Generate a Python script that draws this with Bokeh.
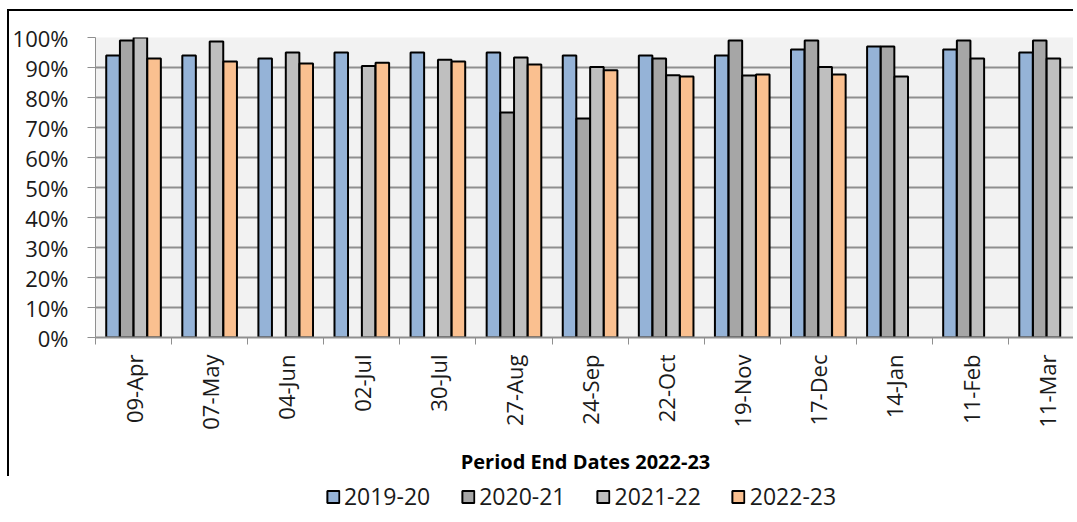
import math
import numpy as np
from bokeh.plotting import figure
from bokeh.layouts import column
from bokeh.models import (ColumnDataSource, Range1d, FixedTicker, LinearAxis,
                          CustomJSTickFormatter, PrintfTickFormatter, Legend, LegendItem)
from bokeh.transform import dodge
from bokeh.embed import file_html
from bokeh.resources import INLINE

categories = ["09-Apr", "07-May", "04-Jun", "02-Jul", "30-Jul", "27-Aug", "24-Sep",
              "22-Oct", "19-Nov", "17-Dec", "14-Jan", "11-Feb", "11-Mar"]
s2019_20 = [94, 94, 93, 95, 95, 95, 94, 94, 94, 96, 97, 96, 95]
s2020_21 = [99, None, None, None, None, 75, 73, 93, 99, 99, 97, 99, 99]
s2021_22 = [100, 98.7, 95, 90.5, 92.6, 93.3, 90.2, 87.4, 87.3, 90.2, 87, 93, 93]
s2022_23 = [93, 92, 91.3, 91.6, 92, 91, 89.1, 87, 87.7, 87.7, None, None, None]
series_names = ["2019-20", "2020-21", "2021-22", "2022-23"]
series_values = [s2019_20, s2020_21, s2021_22, s2022_23]
y_ticks = list(range(0, 101, 10))

colors = ["#95B3D7", "#A6A6A6", "#BFBFBF", "#FAC090"]
offsets = [-0.27, -0.09, 0.09, 0.27]
FONT = "Open Sans"
TXT = "#1a1a1a"
GRID = "#8f8f8f"

p = figure(width=1066, height=467, output_backend="svg", toolbar_location=None,
           x_range=Range1d(0, 12.88), y_range=Range1d(0, 100),
           min_border_left=85, min_border_right=0, min_border_top=26,
           min_border_bottom=141, x_axis_location=None)
p.styles = {"border-left": "2px solid #000", "border-top": "2px solid #000",
            "margin-left": "7px", "margin-top": "9px"}
p.background_fill_color = "#F2F2F2"
p.border_fill_color = "white"
p.outline_line_color = None

for name, vals, col, off in zip(series_names, series_values, colors, offsets):
    xs = [i + 0.5 for i, v in enumerate(vals) if v is not None]
    tops = [v for v in vals if v is not None]
    src = ColumnDataSource(dict(x=xs, top=tops))
    p.vbar(x=dodge("x", off, range=p.x_range), top="top", width=0.178, bottom=0,
           source=src, fill_color=col, line_color="black", line_width=2)

# y axis
yax = p.yaxis[0]
yax.ticker = FixedTicker(ticks=y_ticks)
yax.formatter = PrintfTickFormatter(format="%d%%")
yax.major_label_text_font = FONT
yax.major_label_text_font_size = "22px"
yax.major_label_text_color = TXT
yax.major_tick_out = 8
yax.major_tick_in = 0
yax.minor_tick_line_color = None
yax.major_tick_line_color = GRID
yax.axis_line_color = GRID
yax.major_label_standoff = 19

p.ygrid.ticker = FixedTicker(ticks=y_ticks)
p.ygrid.grid_line_color = GRID
p.ygrid.grid_line_width = 2
p.xgrid.grid_line_color = None

# x axis: boundary ticks
xt = LinearAxis(ticker=FixedTicker(ticks=list(range(0, len(categories) + 1))),
                major_label_text_font_size="1px", major_label_text_alpha=0,
                major_label_standoff=0, major_tick_out=7, major_tick_in=0,
                minor_tick_line_color=None, major_tick_line_color=GRID,
                axis_line_color=GRID, axis_line_width=2)
p.add_layout(xt, "below")

# x axis: labels at centres
xl = LinearAxis(ticker=FixedTicker(ticks=[i + 0.5 for i in range(len(categories))]),
                formatter=CustomJSTickFormatter(args=dict(labels=categories),
                                                code="return labels[Math.floor(tick)] || '';"),
                major_label_orientation=math.pi / 2,
                major_label_text_font=FONT, major_label_text_font_size="22px",
                major_label_text_color=TXT, major_label_standoff=4,
                major_tick_line_color=None, minor_tick_line_color=None,
                axis_line_color=None,
                axis_label="Period End Dates 2022-23", axis_label_text_font=FONT,
                axis_label_text_font_size="20px", axis_label_text_font_style="bold",
                axis_label_text_color="black", axis_label_standoff=15)
p.add_layout(xl, "below")

# legend strip
lg = figure(width=1075, height=40, output_backend="svg", toolbar_location=None,
            x_range=Range1d(0, 1), y_range=Range1d(0, 1),
            min_border_left=82, min_border_right=0, min_border_top=0, min_border_bottom=0,
            x_axis_location=None, y_axis_location=None)
lg.outline_line_color = None
lg.grid.grid_line_color = None
lg.border_fill_alpha = 0
lg.background_fill_alpha = 0
items = []
for name, col in zip(series_names, colors):
    # one bar per series placed far outside the visible range, only so that the legend has a swatch
    r = lg.vbar(x=[50], bottom=[-60], top=[-50], width=0.01, fill_color=col,
                line_color="black", line_width=2)
    items.append(LegendItem(label=name, renderers=[r]))
legend = Legend(items=items, orientation="horizontal", location="center",
                label_text_font=FONT, label_text_font_size="23px", label_text_color=TXT,
                glyph_width=15, glyph_height=15, label_standoff=4, spacing=30,
                padding=0, margin=0, border_line_color=None, background_fill_alpha=0)
lg.add_layout(legend, "center")

layout = column(p, lg, spacing=0)
open("out.html", "w").write(file_html(layout, INLINE))
